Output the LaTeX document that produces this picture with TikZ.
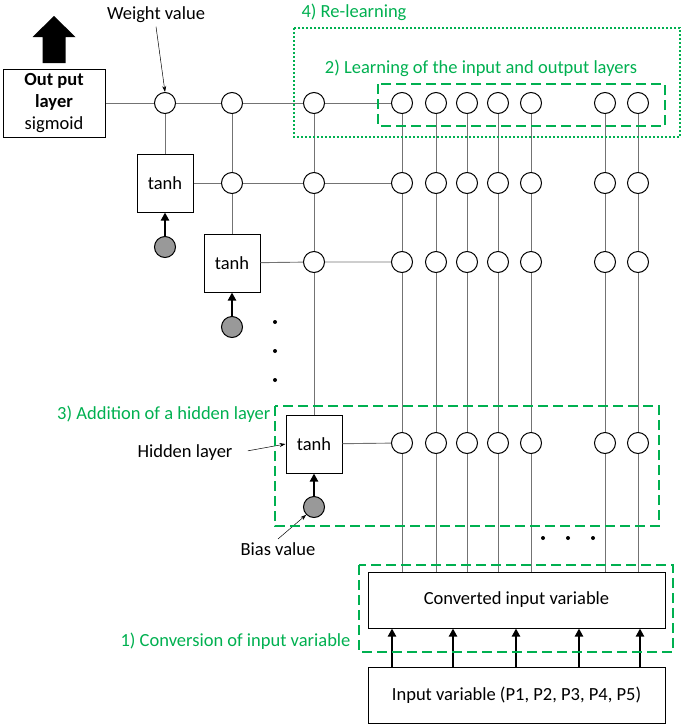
\documentclass[tikz,border=0pt]{standalone}
\usepackage{fontspec}
\setmainfont{Carlito}
\usetikzlibrary{arrows.meta}
\definecolor{grn}{RGB}{0,176,80}

\begin{document}
\begin{tikzpicture}[x=1pt,y=-1pt,font=\fontsize{18.5}{22}\selectfont,
  weight/.style={circle,draw,line width=1pt,fill=white,minimum size=21pt,inner sep=0pt},
  act/.style={rectangle,draw,line width=1pt,fill=white,minimum width=56pt,minimum height=58pt},
  bias/.style={circle,draw,line width=1pt,fill=black!40,minimum size=21pt,inner sep=0pt},
  wire/.style={black!55,line width=0.9pt},
  feed/.style={-{Triangle[length=8pt,width=8pt]},line width=2.4pt},
  note/.style={-{Stealth[length=6pt,width=4pt]},line width=0.5pt},
  grp/.style={draw=grn,line width=2.4pt,dash pattern=on 10pt off 5pt},
  regrp/.style={draw=grn,line width=2.4pt,dash pattern=on 2pt off 2pt},
  lab/.style={text=grn}]
\useasboundingbox (0,0) rectangle (685,726);

% output layer
\node[draw,line width=1pt,align=center,minimum width=102pt,minimum height=68pt,inner sep=0pt] (out) at (54,103)
  {\textbf{Out put}\\\textbf{layer}\\sigmoid};
\fill (42.5,63) -- (42.5,37) -- (32.5,37) -- (54,16) -- (75.5,37) -- (65.5,37) -- (65.5,63) -- cycle;

% hidden units
\node[act]  (t1)    at (165,183) {tanh};
\node[act]  (t2)    at (232,263) {tanh};
\node[act]  (t3)    at (314,444) {tanh};
\node[bias] (bias1) at (165,247) {};
\node[bias] (bias2) at (232,327) {};
\node[bias] (bias3) at (314,507) {};

% weights
\node[weight] (wa0) at (165,103) {};
\node[weight] (wb0) at (232,103) {};
\node[weight] (wb1) at (232,183) {};
\node[weight] (wc0) at (314,103) {};
\node[weight] (wc1) at (314,183) {};
\node[weight] (wc2) at (314,262) {};
\foreach \r/\y in {0/103,1/183,2/262,3/443}
  \foreach \c/\x in {1/402,2/436,3/467,4/498,5/531,6/605,7/638}
    \node[weight] (w\r\c) at (\x,\y) {};

% input side
\node[draw,line width=1pt,minimum width=297pt,minimum height=56pt] (conv) at (516.5,600) {Converted input variable};
\node[draw,line width=1pt,minimum width=297pt,minimum height=56pt] (inp)  at (516.5,695) {Input variable (P1, P2, P3, P4, P5)};

% wiring
\draw[wire] (out) -- (wa0) -- (wb0) -- (wc0) -- (w01);
\draw[wire] (t1) -- (wb1) -- (wc1) -- (w11);
\draw[wire] (t2) -- (wc2) -- (w21);
\draw[wire] (t3) -- (w31);
\foreach \r in {0,...,3}
  \foreach \c [evaluate=\c as \n using int(\c+1)] in {1,...,6}
    \draw[wire] (w\r\c) -- (w\r\n);
\draw[wire] (wa0) -- (t1);
\draw[wire] (wb0) -- (wb1) -- (t2);
\draw[wire] (wc0) -- (wc1) -- (wc2) -- (t3);
\foreach \c in {1,...,7}
  \draw[wire] (w0\c) -- (w1\c) -- (w2\c) -- (w3\c) -- (w3\c |- conv.north);

\draw[feed] (bias1) -- (t1);
\draw[feed] (bias2) -- (t2);
\draw[feed] (bias3) -- (t3);
\foreach \x in {392,453,516,579,640} {
  \coordinate (ax) at (\x,0);
  \draw[feed] (inp.north -| ax) -- (conv.south -| ax);
}

% dots
\foreach \y in {322,351,380} \fill (275,\y) circle[radius=2pt];
\foreach \x in {543,568,593} \fill (\x,538) circle[radius=2pt];

% annotations
\node (wlab) at (156,15) {Weight value};
\draw[note] (wlab.south) -- (wa0.north);
\node (hlab) at (185,453) {Hidden layer};
\draw[note,shorten <=12pt] (hlab.east) -- (t3.west);
\node (blab) at (278,549) {Bias value};
\draw[note] (blab.north) -- (bias3.south west);

% groups
\draw[regrp] (294,28) rectangle (680,137);
\draw[grp] (378,84) rectangle (665,126);
\draw[grp] (275,406) rectangle (659,526);
\draw[grp] (359,565) rectangle (673,652);
\node[lab,anchor=west] (g4) at (298,12) {4) Re-learning};
\node[lab] (g2) at (481,68) {2) Learning of the input and output layers};
\node[lab,anchor=east] (g3) at (274,414) {3) Addition of a hidden layer};
\node[lab,anchor=east] (g1) at (354,641) {1) Conversion of input variable};
\end{tikzpicture}
\end{document}
